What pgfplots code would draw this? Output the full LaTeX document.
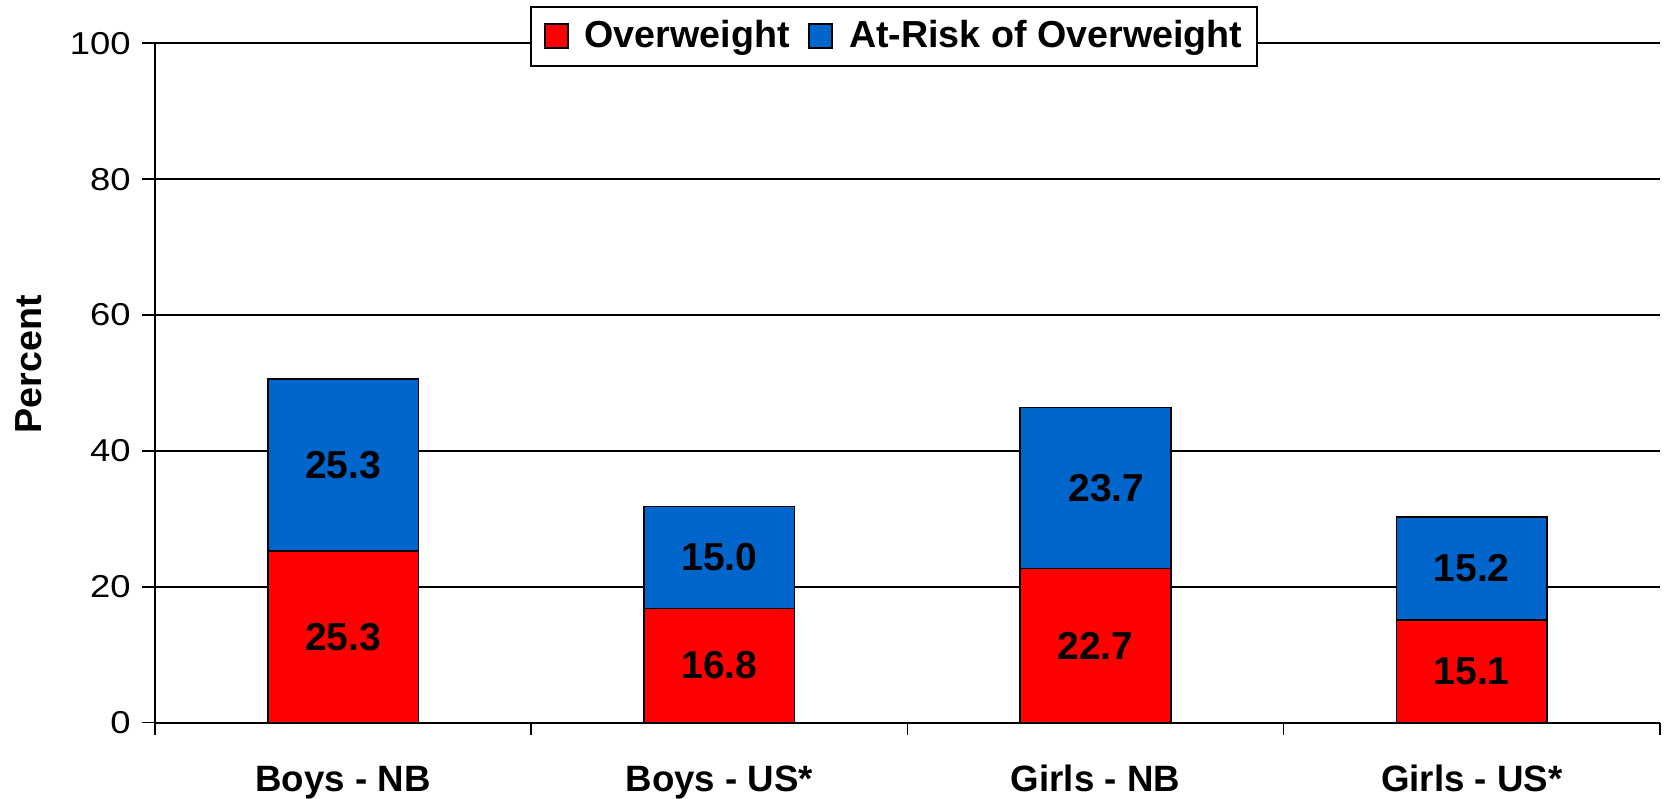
\documentclass[border=0pt]{standalone}
\usepackage{pgfplots}
\pgfplotsset{compat=1.18}
\usepackage{pgfplotstable}
\usepackage{graphicx}
\usepackage{fontspec}
\setmainfont{Liberation Sans}
\definecolor{barred}{RGB}{255,0,0}
\definecolor{barblue}{RGB}{0,102,204}

\pgfplotstableread{
x over risk
0 25.3 25.3
1 16.8 15.0
2 22.7 23.7
3 15.1 15.2
}\datatable

\begin{document}
\begin{tikzpicture}
\begin{axis}[
  scale only axis, width=451.5pt, height=203.8pt,
  ybar stacked, bar width=45.2pt,
  xmin=-0.5, xmax=3.5, ymin=0, ymax=100,
  axis x line=bottom, axis y line=left,
  axis line style={-, line width=0.6pt, black},
  tick align=outside, major tick length=3.8pt,
  tick style={black, line width=0.5pt},
  /pgf/number format/assume math mode=true,
  ytick={0,20,...,100},
  ymajorgrids, grid style={black, line width=0.5pt},
  yticklabel style={font=\fontsize{9.5}{11}\selectfont},
  yticklabel={\scalebox{1.15}[1]{\pgfmathprintnumber{\tick}}},
  xtick={-0.5,0.5,1.5,2.5,3.5}, xticklabels={},
  extra x ticks={0,1,2,3},
  extra x tick labels={Boys - NB, Boys - US*, Girls - NB, Girls - US*},
  extra x tick style={major tick length=0pt, grid=none},
  xticklabel style={font=\fontsize{11}{13}\selectfont\bfseries, anchor=base, yshift=-20.7pt},
  ylabel={Percent},
  ylabel style={font=\fontsize{11.3}{13}\selectfont\bfseries, at={(axis description cs:-0.08405,0.5276)}, anchor=center},
  legend style={at={(axis description cs:0.491,1.010)}, anchor=center, legend columns=-1,
    draw=black, line width=0.6pt, fill=white, font=\fontsize{11.3}{13}\selectfont\bfseries,
    inner xsep=4pt, inner ysep=3.5pt, nodes={inner sep=0.4pt},
    /tikz/every odd column/.append style={column sep=4.3pt},
    /tikz/every even column/.append style={column sep=5.2pt}},
  legend image code/.code={\draw[#1, line width=0.6pt] (0pt,-3.5pt) rectangle (6.9pt,3.7pt);},
  point meta=explicit,
  nodes near coords={\pgfmathprintnumber[fixed,fixed zerofill,precision=1]{\pgfplotspointmeta}},
  visualization depends on={rawx \as \xv},
]
\addplot[fill=barred, draw=black, line width=0.5pt,
  nodes near coords style={anchor=center, font=\fontsize{11.7}{14}\selectfont\bfseries, text=black}]
  table[x=x, y=over, meta=over] {\datatable};
\addplot[fill=barblue, draw=black, line width=0.5pt,
  nodes near coords style={anchor=center, font=\fontsize{11.7}{14}\selectfont\bfseries, text=black, xshift={(\xv==2)*3.3pt}}]
  table[x=x, y=risk, meta=risk] {\datatable};
\legend{Overweight, At-Risk of Overweight}
\end{axis}
\pgfresetboundingbox
\useasboundingbox ([xshift=-46.5pt,yshift=-22.9pt]current axis.south west) rectangle ([xshift=1.56pt,yshift=13.0pt]current axis.north east);
\end{tikzpicture}
\end{document}
